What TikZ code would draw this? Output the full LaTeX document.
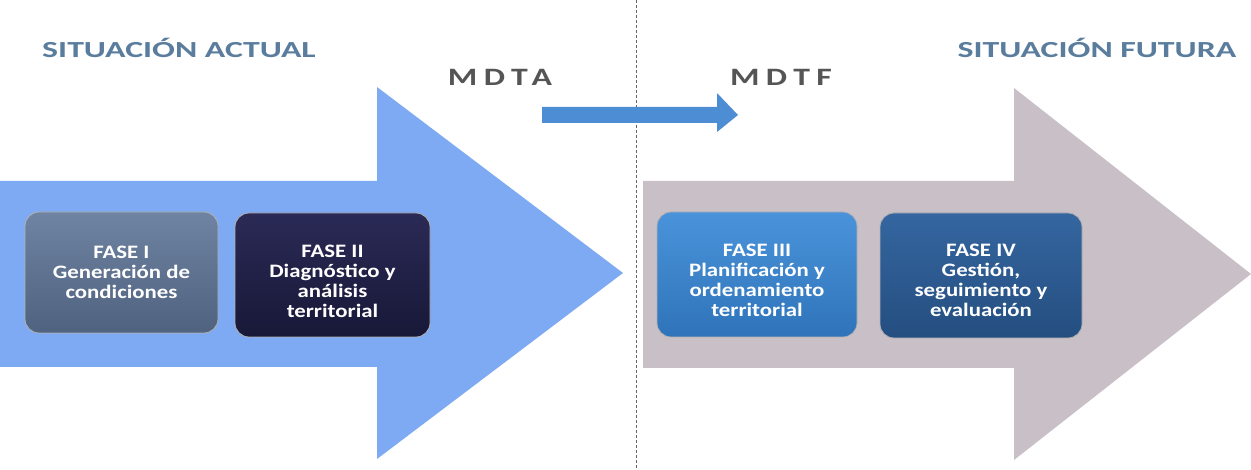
\documentclass[tikz,border=0pt]{standalone}
\usepackage{fontspec}
\setmainfont{Carlito}
\newfontfamily\boxfont[FakeStretch=1.2]{Carlito}
\newfontfamily\titlefont[FakeStretch=1.47]{Carlito}
\newfontfamily\mdfont[FakeStretch=1.35,LetterSpace=26]{Carlito}
\definecolor{arrowblue}{HTML}{7DAAF2}
\definecolor{arrowgrey}{HTML}{C8BFC7}
\definecolor{smallblue}{HTML}{4D8DD3}
\definecolor{titleblue}{HTML}{5A7D9E}
\definecolor{mdgrey}{HTML}{555555}
\definecolor{faseAtop}{HTML}{6F84A2}
\definecolor{faseAbot}{HTML}{4F6280}
\definecolor{faseBtop}{HTML}{2A2A56}
\definecolor{faseBbot}{HTML}{181838}
\definecolor{faseCtop}{HTML}{4A93DA}
\definecolor{faseCbot}{HTML}{2F74BA}
\definecolor{faseDtop}{HTML}{3566A0}
\definecolor{faseDbot}{HTML}{244E80}
\tikzset{
  fasebox/.style={rounded corners=14pt, inner sep=0pt,
    draw=white!70!black, line width=0.8pt},
  fasetext/.style={align=center, text=white, inner sep=0pt,
    font=\boxfont\bfseries\fontsize{19}{20}\selectfont},
  titletext/.style={anchor=base, text=titleblue,
    font=\titlefont\bfseries\fontsize{23}{26}\selectfont},
  mdtext/.style={anchor=base, text=mdgrey,
    font=\mdfont\bfseries\fontsize{25}{28}\selectfont}
}
\begin{document}
\begin{tikzpicture}[x=1pt,y=-1pt]
\useasboundingbox (0,0) rectangle (1251,470);
\fill[white] (0,0) rectangle (1251,470);
% big arrows
\fill[arrowblue] (0,181) -- (377,181) -- (377,87) -- (623,273) -- (377,459) -- (377,367) -- (0,367) -- cycle;
\fill[arrowgrey] (643,181) -- (1014,181) -- (1014,88) -- (1251,274) -- (1014,460) -- (1014,368) -- (643,368) -- cycle;
% dashed divider
\coordinate (dtop) at (636,0);
\coordinate (dbot) at (636,470);
\draw[black!60, line width=0.9pt, dash pattern=on 3pt off 2pt] (dtop) -- (dbot);
% small arrow
\fill[smallblue] (542,107) -- (717,107) -- (717,93) -- (738,115) -- (717,132) -- (717,123) -- (542,123) -- cycle;
% titles
\node[titletext] (actual) at (179,58) {SITUACIÓN ACTUAL};
\node[titletext] (futura) at (1097,58) {SITUACIÓN FUTURA};
\node[mdtext] (mdta) at (500,86) {MDTA};
\node[mdtext] (mdtf) at (781,86) {MDTF};
% phase boxes
\node[fasebox, minimum width=193pt, minimum height=121pt, top color=faseAtop, bottom color=faseAbot] (f1) at (121.5,272.5) {};
\node[fasebox, minimum width=195pt, minimum height=124pt, top color=faseBtop, bottom color=faseBbot] (f2) at (332.5,275) {};
\node[fasebox, minimum width=200pt, minimum height=125pt, top color=faseCtop, bottom color=faseCbot] (f3) at (757,274.5) {};
\node[fasebox, minimum width=202pt, minimum height=125pt, top color=faseDtop, bottom color=faseDbot] (f4) at (981,275.5) {};
\node[fasetext] (t1) at (121.5,272) {FASE I\\Generación de\\condiciones};
\node[fasetext] (t2) at (332.5,281) {FASE II\\Diagnóstico y\\análisis\\territorial};
\node[fasetext] (t3) at (757,280) {FASE III\\Planificación y\\ordenamiento\\territorial};
\node[fasetext] (t4) at (981,280) {FASE IV\\Gestión,\\seguimiento y\\evaluación};
\end{tikzpicture}
\end{document}
